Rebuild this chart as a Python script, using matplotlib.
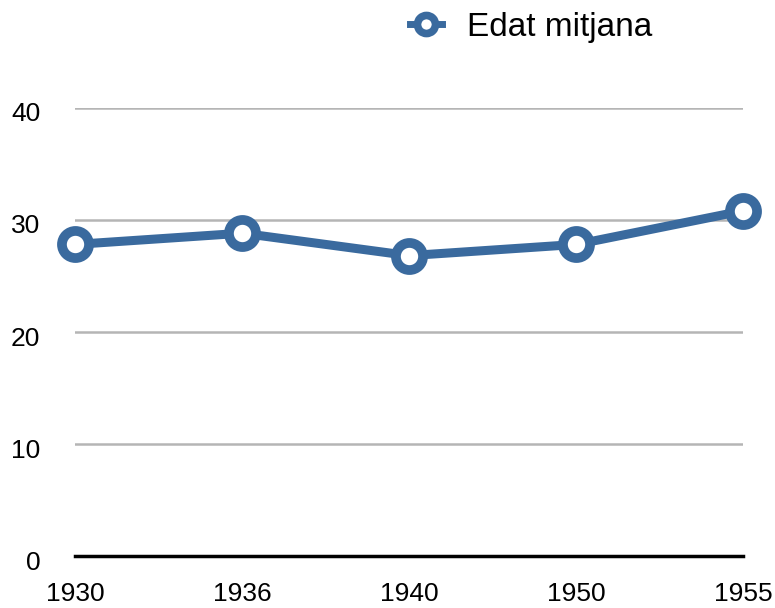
import matplotlib
matplotlib.use("Agg")
import matplotlib.pyplot as plt
from matplotlib.lines import Line2D
from matplotlib.transforms import ScaledTranslation

years = ["1930", "1936", "1940", "1950", "1955"]
edat = [27.8, 28.8, 26.8, 27.8, 30.8]
yticks = [0, 10, 20, 30, 40]
serie = "Edat mitjana"

blau = "#3A6A9E"
plt.rcParams["font.family"] = ["Liberation Sans", "DejaVu Sans"]

fig = plt.figure(figsize=(7.75, 6.08), dpi=100)
ax = fig.add_axes([0.0968, 0.0855, 0.9592 - 0.0968, 0.8229 - 0.0855])

x = list(range(len(years)))
for t in yticks[1:]:
    ax.axhline(t, color="#b5b5b5", lw=1.8, zorder=1)
ax.axhline(0, color="black", lw=2.5, zorder=2, clip_on=False)

ax.plot(x, edat, color=blau, lw=6.5, marker="o", ms=19.5, mew=7,
        mfc="white", mec=blau, clip_on=False, zorder=3)

ax.set_xlim(0, len(years) - 1)
ax.set_ylim(0, 40)
ax.set_xticks(x)
ax.set_xticklabels(years, fontsize=19)
ax.set_yticks(yticks)
ax.set_yticklabels([str(t) for t in yticks], fontsize=19)
ax.tick_params(axis="x", length=0, pad=19)
ax.tick_params(axis="y", length=0, pad=25)
for s in ax.spines.values():
    s.set_visible(False)

off = ScaledTranslation(0, -3 / 72, fig.dpi_scale_trans)
for lab in ax.get_yticklabels():
    lab.set_transform(lab.get_transform() + off)

handle = Line2D([], [], color=blau, lw=5, marker="o", ms=13, mew=5.5,
                mfc="white", mec=blau)
fig.legend([handle], [serie], loc="center left", bbox_to_anchor=(0.529, 0.955),
           frameon=False, fontsize=24, borderpad=0, borderaxespad=0,
           handlelength=0.95, handletextpad=0.75)

fig.savefig("out.png", dpi=100)
